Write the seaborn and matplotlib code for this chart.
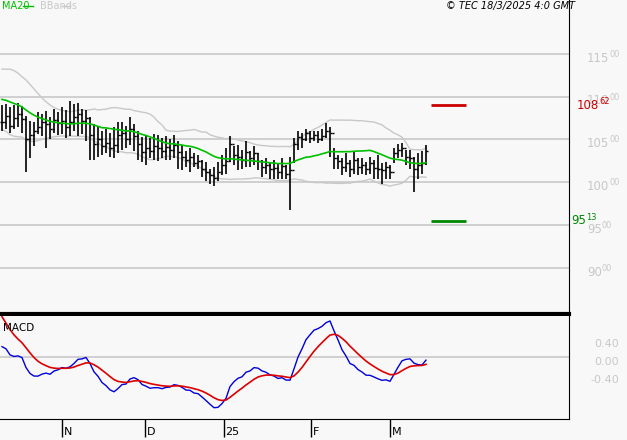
import numpy as np
import pandas as pd
import matplotlib
matplotlib.use("Agg")
import matplotlib.pyplot as plt
import seaborn as sns

prehistory = [102, 102.5, 103, 103.8, 104.5, 105, 106, 106.8, 107.5, 108.2, 109, 109.8,
              110.5, 111, 111.5, 112, 112.3, 112, 111.5, 111, 110.5, 110, 109.5, 109,
              108.5, 108, 107.8, 107.5, 107.2, 107.0]
closes = [107.0, 107.8, 106.6, 107.5, 108.0, 107.4,
          105.0, 105.5, 106.0,
          106.5, 107.0, 106.8, 106.2, 107.3, 106.9, 107.2, 106.5, 107.0, 107.6,
          108.0, 107.2, 107.5,
          105.5, 104.5, 105.0, 104.2, 104.6, 104.0,
          104.3, 105.5, 105.8, 105.0, 106.2, 105.4, 104.5,
          103.5, 104.0, 103.7, 104.2, 104.0, 103.6, 104.1, 103.8, 104.3, 103.5,
          103.0, 102.6, 103.0, 102.2, 102.5,
          101.6, 101.2, 100.8, 100.5, 101.2,
          102.0, 102.5, 104.5, 103.2,
          103.0, 102.6, 103.5, 102.8, 103.4, 102.5,
          101.8, 102.0, 101.5, 101.7, 101.2, 101.9, 101.0, 101.4,
          104.5, 105.3, 105.0, 105.8, 105.2, 105.5, 105.0, 105.4, 106.0, 105.8,
          102.8, 102.5, 101.8, 102.2, 101.5, 102.6, 101.8, 102.0, 101.6, 102.2, 101.7, 101.5,
          101.4, 101.8, 101.2, 103.4,
          103.8, 104.0, 103.0, 102.8, 101.5,
          102.0, 102.2, 103.6]
highs = [109.0, 109.2, 108.8, 109.0, 109.3, 108.9,
         107.8, 107.2, 107.0,
         108.2, 108.0, 108.3, 107.6, 108.6, 108.2, 108.8, 108.4, 109.5, 109.1,
         109.3, 108.6, 108.4,
         107.6, 106.8, 106.5, 106.0, 106.2, 105.8,
         106.4, 107.0, 107.0, 106.6, 107.6, 106.8, 106.0,
         105.3, 105.4, 105.2, 105.6, 105.5, 105.2, 105.4, 105.0, 105.5, 104.8,
         104.3, 103.6, 104.0, 103.4, 103.2,
         102.6, 102.4, 101.6, 101.8, 102.4,
         103.2, 104.0, 105.4, 104.2,
         104.4, 103.8, 104.8, 103.6, 104.2, 103.4,
         102.6, 102.8, 102.4, 102.6, 102.3, 102.8, 102.0, 103.0,
         105.2, 106.0, 105.8, 106.2, 106.0, 106.0, 106.0, 106.2, 106.9, 106.4,
         104.0, 103.2, 102.8, 103.4, 102.6, 103.6, 102.8, 102.8, 102.4, 103.0, 102.6, 103.2,
         102.2, 102.4, 102.0, 104.0,
         104.5, 104.6, 103.8, 103.8, 103.0,
         103.4, 103.6, 104.3]
lows = [106.0, 106.2, 105.8, 106.2, 106.4, 105.8,
        101.2, 102.8, 104.2,
        105.6, 105.4, 104.0, 105.0, 105.8, 105.5, 105.6, 105.2, 105.4, 106.0,
        105.4, 105.6, 104.8,
        102.6, 102.6, 103.0, 103.2, 103.4, 103.0,
        102.8, 103.4, 103.8, 104.0, 104.4, 103.6, 102.6,
        102.4, 102.0, 102.8, 102.6, 102.5, 102.8, 102.6, 102.6, 102.8, 101.6,
        101.4, 101.8, 101.2, 101.8, 101.6,
        100.6, 100.2, 99.8, 99.6, 100.2,
        100.8, 101.0, 102.4, 102.0,
        101.4, 101.6, 101.8, 101.8, 102.0, 101.4,
        100.6, 101.0, 100.4, 100.4, 100.4, 100.4, 100.4, 96.7,
        102.2, 103.8, 104.0, 104.8, 104.6, 104.8, 104.6, 104.8, 105.2, 103.0,
        101.6, 101.6, 100.8, 101.2, 100.6, 101.0, 100.8, 101.0, 100.8, 101.0, 100.4, 100.4,
        99.8, 100.4, 100.4, 102.2,
        102.8, 103.0, 102.0, 101.6, 98.9,
        100.4, 101.0, 102.0]
month_labels = ["N", "D", "25", "F", "M"]
month_positions = [15, 35.75, 55.5, 77.25, 97]
price_ticks = [90, 95, 100, 105, 110, 115]
macd_ticks = [0.4, 0.0, -0.4]
last_price = 108.62
support_price = 95.13

# indicators
full = pd.Series(prehistory + closes, dtype=float)
ma20 = full.rolling(20).mean()
sd20 = full.rolling(20).std(ddof=0)
upper = ma20 + 2 * sd20
lower = ma20 - 2 * sd20
macd = full.ewm(span=12, adjust=False).mean() - full.ewm(span=26, adjust=False).mean()
signal = macd.ewm(span=9, adjust=False).mean()
n0 = len(prehistory)
idx = np.arange(len(closes))
df = pd.DataFrame({"i": idx, "ma": ma20[n0:].values, "up": upper[n0:].values,
                   "lo": lower[n0:].values, "macd": macd[n0:].values,
                   "sig": signal[n0:].values})
opens = [prehistory[-1]] + closes[:-1]

W, H = 627, 440
fig = plt.figure(figsize=(W / 100, H / 100), dpi=100)
bg = "#f8f8f8"
grey = "#c8c8c8"
fig.patch.set_facecolor(bg)
ax = fig.add_axes([0, (H - 314) / H, 569 / W, 314 / H])
ax2 = fig.add_axes([0, (H - 419) / H, 569 / W, 103 / H])
xl = (-0.5, 141.75)
for a in (ax, ax2):
    a.set_facecolor(bg)
    a.set_xlim(*xl)
    a.set_xticks([]); a.set_yticks([])
    for s in a.spines.values():
        s.set_visible(False)
    a.spines["right"].set_visible(True)
    a.spines["right"].set_color("black")

ax.set_ylim(84.6, 121.3)
for p in price_ticks:
    ax.axhline(p, color=grey, lw=1.2, zorder=0)
ax.axhline(84.6, color="black", lw=3, clip_on=False)

sns.lineplot(data=df, x="i", y="up", ax=ax, color=grey, lw=1)
sns.lineplot(data=df, x="i", y="lo", ax=ax, color=grey, lw=1)
ax.vlines(idx, lows, highs, color="black", lw=1.2)
ax.hlines(opens, idx - 0.5, idx, color="black", lw=1)
ax.hlines(closes, idx, idx + 0.5, color="black", lw=1)
sns.lineplot(data=df, x="i", y="ma", ax=ax, color="#00c000", lw=1.2)
ax.set_xlabel(""); ax.set_ylabel("")

ax.hlines(last_price + 0.35, 107.2, 116, color="#cc0000", lw=2)
ax.hlines(support_price + 0.35, 107.2, 116, color="#008800", lw=2)

fig.canvas.draw()

def split_label(a, x, y, big, small, color, fs=8.5):
    t = a.text(x, y, big, color=color, fontsize=fs, va="center", ha="left",
               transform=a.get_yaxis_transform(), clip_on=False)
    bb = t.get_window_extent(renderer=fig.canvas.get_renderer())
    inv = a.get_yaxis_transform().inverted()
    x2 = inv.transform((bb.x1, 0))[0]
    a.text(x2, y + (a.get_ylim()[1] - a.get_ylim()[0]) * 0.012, small, color=color,
           fontsize=fs * 0.7, va="center", ha="left",
           transform=a.get_yaxis_transform(), clip_on=False)

for p in price_ticks:
    split_label(ax, 587 / 569, p - 0.5, f"{p}", "00", grey)
split_label(ax, 577 / 569, last_price + 0.35, f"{int(last_price)}",
            f"{round((last_price % 1) * 100):02d}", "#cc0000")
split_label(ax, 571 / 569, support_price + 0.35, f"{int(support_price)}",
            f"{round((support_price % 1) * 100):02d}", "#008800")

ax2.set_ylim(-1.38, 0.91)
ax2.axhline(0, color=grey, lw=1.2, zorder=0)
sns.lineplot(data=df, x="i", y="macd", ax=ax2, color="#0000dd", lw=1)
sns.lineplot(data=df, x="i", y="sig", ax=ax2, color="#dd0000", lw=1.2)
ax2.set_xlabel(""); ax2.set_ylabel("")
ax2.spines["bottom"].set_visible(True)
ax2.spines["bottom"].set_color("black")
ax2.text(0.005, 0.88, "MACD", transform=ax2.transAxes, fontsize=7.5, va="center")
for v in macd_ticks:
    ax2.text(619 / 569, v - 0.11, f"{v:.2f}",
             transform=ax2.get_yaxis_transform(), color=grey, fontsize=8,
             ha="right", va="center", clip_on=False)

for lab, pos in zip(month_labels, month_positions):
    ax2.vlines(pos, -1.38, -1.78, color="black", lw=1, clip_on=False)
    ax2.text(pos + 0.4, -1.68, lab, fontsize=8, va="center", ha="left", clip_on=False)

fig.text(2 / W, 1 - 6 / H, "MA20", color="#00c000", fontsize=7, va="center")
fig.add_artist(plt.Line2D([23 / W, 33 / W], [1 - 6 / H] * 2, color="#00c000", lw=1))
fig.text(40 / W, 1 - 6 / H, "BBands", color=grey, fontsize=7, va="center")
fig.add_artist(plt.Line2D([62 / W, 70 / W], [1 - 6 / H] * 2, color=grey, lw=1))
fig.text(575 / W, 1 - 6 / H, "© TEC 18/3/2025 4:0 GMT", fontsize=7, style="italic",
         ha="right", va="center")

fig.savefig("out.png", dpi=100, facecolor=bg)
